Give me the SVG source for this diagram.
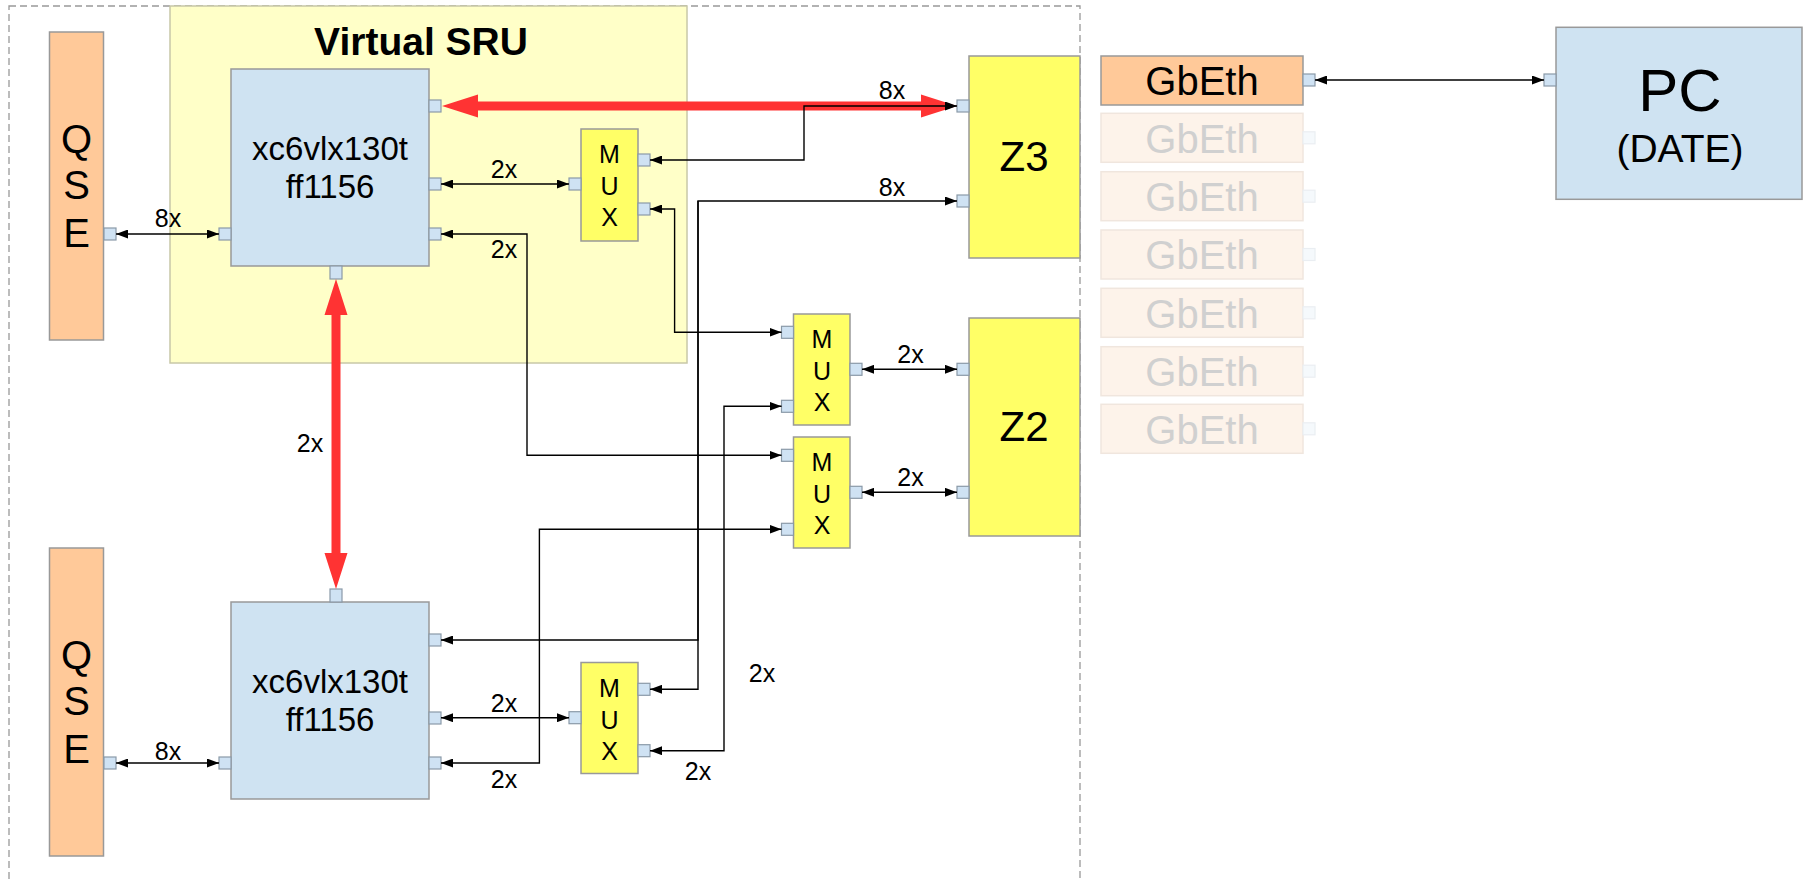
<svg xmlns="http://www.w3.org/2000/svg" width="1807" height="879" viewBox="0 0 1807 879">
<style>
text{font-family:"Liberation Sans",Arial,sans-serif;fill:#000}
.box{stroke:#999;stroke-width:1.5}
.peach{fill:#ffc999}
.blue{fill:#cfe3f2}
.yel{fill:#ffff66}
.port{fill:#cfe2f3;stroke:#8a9aa8;stroke-width:1.2}
.fport{fill:#f5f9fc;stroke:#eaeef2;stroke-width:1.2}
.fbox{fill:#fdf3ea;stroke:#f0e6de;stroke-width:1.5}
.ftxt{fill:#d0d0d0;font-size:40px;text-anchor:middle}
.w{stroke:#000;stroke-width:1.4;fill:none;marker-start:url(#ah);marker-end:url(#ah)}
.we{stroke:#000;stroke-width:1.4;fill:none;marker-end:url(#ah)}
.lbl{font-size:25px;text-anchor:middle}
.mux{font-size:25px;text-anchor:middle}
.qse{font-size:40px;text-anchor:middle}
</style>
<defs>
<marker id="ah" viewBox="0 0 12 9" refX="12" refY="4.5" markerWidth="12" markerHeight="9" markerUnits="userSpaceOnUse" orient="auto-start-reverse">
<path d="M0,0 L12,4.5 L0,9 z" fill="#000"/>
</marker>
</defs>

<rect x="9" y="6" width="1071" height="900" fill="none" stroke="#999" stroke-width="1.3" stroke-dasharray="7,4"/>

<g id="sru">
<rect x="170" y="6" width="517" height="357" fill="#ffffc8" stroke="#c8c8a8" stroke-width="1.5"/>
<text x="421" y="55" font-size="39" font-weight="bold" text-anchor="middle">Virtual SRU</text>
</g>

<g id="qse1">
<rect class="box peach" x="49.5" y="32" width="54" height="308"/>
<text class="qse" x="76.5" y="153">Q</text>
<text class="qse" x="76.5" y="199">S</text>
<text class="qse" x="76.5" y="247">E</text>
<rect class="port" x="104" y="228" width="12" height="12"/>
</g>

<g id="qse2">
<rect class="box peach" x="49.5" y="548" width="54" height="308"/>
<text class="qse" x="76.5" y="669">Q</text>
<text class="qse" x="76.5" y="715">S</text>
<text class="qse" x="76.5" y="763">E</text>
<rect class="port" x="104" y="757" width="12" height="12"/>
</g>

<g id="fpga1">
<rect class="box blue" x="231" y="69" width="198" height="197"/>
<text x="330" y="160" font-size="33" text-anchor="middle">xc6vlx130t</text>
<text x="330" y="198" font-size="33" text-anchor="middle">ff1156</text>
<rect class="port" x="219" y="228" width="12" height="12"/>
<rect class="port" x="429" y="100" width="12" height="12"/>
<rect class="port" x="429" y="178" width="12" height="12"/>
<rect class="port" x="429" y="228" width="12" height="12"/>
<rect class="port" x="330" y="266" width="12" height="13"/>
</g>

<g id="fpga2">
<rect class="box blue" x="231" y="602" width="198" height="197"/>
<text x="330" y="693" font-size="33" text-anchor="middle">xc6vlx130t</text>
<text x="330" y="731" font-size="33" text-anchor="middle">ff1156</text>
<rect class="port" x="219" y="757" width="12" height="12"/>
<rect class="port" x="429" y="634" width="12" height="12"/>
<rect class="port" x="429" y="712" width="12" height="12"/>
<rect class="port" x="429" y="757" width="12" height="12"/>
<rect class="port" x="330" y="589" width="12" height="13"/>
</g>

<g id="mux1">
<rect class="box yel" x="581" y="129" width="57" height="112"/>
<text class="mux" x="609.5" y="163">M</text>
<text class="mux" x="609.5" y="195">U</text>
<text class="mux" x="609.5" y="226">X</text>
<rect class="port" x="569" y="178" width="12" height="12"/>
<rect class="port" x="638" y="154" width="12" height="12"/>
<rect class="port" x="638" y="203" width="12" height="12"/>
</g>

<g id="mux2">
<rect class="box yel" x="793.5" y="314" width="56.5" height="111"/>
<text class="mux" x="822" y="348">M</text>
<text class="mux" x="822" y="380">U</text>
<text class="mux" x="822" y="411">X</text>
<rect class="port" x="781.5" y="326.3" width="12" height="12"/>
<rect class="port" x="781.5" y="400.3" width="12" height="12"/>
<rect class="port" x="850" y="363.3" width="12" height="12"/>
</g>

<g id="mux3">
<rect class="box yel" x="793.5" y="437" width="56.5" height="111"/>
<text class="mux" x="822" y="471">M</text>
<text class="mux" x="822" y="503">U</text>
<text class="mux" x="822" y="534">X</text>
<rect class="port" x="781.5" y="449.3" width="12" height="12"/>
<rect class="port" x="781.5" y="523.3" width="12" height="12"/>
<rect class="port" x="850" y="486.3" width="12" height="12"/>
</g>

<g id="mux4">
<rect class="box yel" x="581" y="662.5" width="57" height="111"/>
<text class="mux" x="609.5" y="696.5">M</text>
<text class="mux" x="609.5" y="728.5">U</text>
<text class="mux" x="609.5" y="759.5">X</text>
<rect class="port" x="569" y="711.7" width="12" height="12"/>
<rect class="port" x="638" y="683.3" width="12" height="12"/>
<rect class="port" x="638" y="744.7" width="12" height="12"/>
</g>

<g id="z3">
<rect class="box yel" x="969" y="56" width="111" height="202"/>
<text x="1024" y="171" font-size="42" text-anchor="middle">Z3</text>
<rect class="port" x="957" y="100" width="12" height="12"/>
<rect class="port" x="957" y="195" width="12" height="12"/>
</g>

<g id="z2">
<rect class="box yel" x="969" y="318" width="111" height="218"/>
<text x="1024" y="441" font-size="42" text-anchor="middle">Z2</text>
<rect class="port" x="957" y="363.3" width="12" height="12"/>
<rect class="port" x="957" y="486.3" width="12" height="12"/>
</g>

<g id="gbeth1">
<rect class="box peach" x="1101" y="56" width="202" height="49"/>
<text x="1202" y="95" font-size="40" text-anchor="middle">GbEth</text>
<rect class="port" x="1303" y="74" width="12" height="12"/>
</g>
<g id="gbeth2"><rect class="fbox" x="1101" y="113.3" width="202" height="49"/><text class="ftxt" x="1202" y="152.7">GbEth</text><rect class="fport" x="1303" y="131.8" width="12" height="12"/></g>
<g id="gbeth3"><rect class="fbox" x="1101" y="171.7" width="202" height="49"/><text class="ftxt" x="1202" y="211.1">GbEth</text><rect class="fport" x="1303" y="190.2" width="12" height="12"/></g>
<g id="gbeth4"><rect class="fbox" x="1101" y="230" width="202" height="49"/><text class="ftxt" x="1202" y="269.4">GbEth</text><rect class="fport" x="1303" y="248.5" width="12" height="12"/></g>
<g id="gbeth5"><rect class="fbox" x="1101" y="288.3" width="202" height="49"/><text class="ftxt" x="1202" y="327.7">GbEth</text><rect class="fport" x="1303" y="306.8" width="12" height="12"/></g>
<g id="gbeth6"><rect class="fbox" x="1101" y="346.7" width="202" height="49"/><text class="ftxt" x="1202" y="386.1">GbEth</text><rect class="fport" x="1303" y="365.2" width="12" height="12"/></g>
<g id="gbeth7"><rect class="fbox" x="1101" y="404.3" width="202" height="49"/><text class="ftxt" x="1202" y="443.7">GbEth</text><rect class="fport" x="1303" y="422.8" width="12" height="12"/></g>

<g id="pc">
<rect class="box blue" x="1556" y="27.3" width="246" height="172"/>
<text x="1680" y="111" font-size="60" text-anchor="middle">PC</text>
<text x="1680" y="161.7" font-size="39" text-anchor="middle">(DATE)</text>
<rect class="port" x="1544" y="74" width="12" height="12"/>
</g>

<g id="connectors">
<path d="M442,106 L478,94.5 L478,101.5 L921,101.5 L921,94.5 L957,106 L921,117.5 L921,110.5 L478,110.5 L478,117.5 Z" fill="#ff3333"/>
<path d="M336,279 L324.5,315 L331.5,315 L331.5,553 L324.5,553 L336,589 L347.5,553 L340.5,553 L340.5,315 L347.5,315 Z" fill="#ff3333"/>
<text class="lbl" x="892" y="99">8x</text>
<text class="lbl" x="310" y="452">2x</text>

<path class="w" d="M116,234 H219"/>
<text class="lbl" x="168" y="227">8x</text>
<path class="w" d="M116,763 H219"/>
<text class="lbl" x="168" y="760">8x</text>

<path class="w" d="M441,184 H569"/>
<text class="lbl" x="504" y="178">2x</text>
<path class="w" d="M441,234 H527 V455.3 H781.5"/>
<text class="lbl" x="504" y="258">2x</text>

<path class="w" d="M650,160 H804 V106 H957"/>
<path class="w" d="M650,209 H674.6 V332.3 H781.5"/>

<path class="w" d="M441,640 H698 V201 H957"/>
<path class="we" d="M698,201 V689.3 H650"/>
<text class="lbl" x="892" y="196">8x</text>

<path class="w" d="M862,369.3 H957"/>
<text class="lbl" x="910.5" y="363">2x</text>
<path class="w" d="M862,492.3 H957"/>
<text class="lbl" x="910.5" y="486">2x</text>

<path class="w" d="M650,750.7 H724 V406.3 H781.5"/>
<text class="lbl" x="698" y="780">2x</text>
<text class="lbl" x="762" y="682">2x</text>

<path class="w" d="M441,763 H539.4 V529.3 H781.5"/>
<text class="lbl" x="504" y="788">2x</text>

<path class="w" d="M441,717.7 H569"/>
<text class="lbl" x="504" y="712">2x</text>

<path class="w" d="M1315,80 H1544"/>
</g>
</svg>
